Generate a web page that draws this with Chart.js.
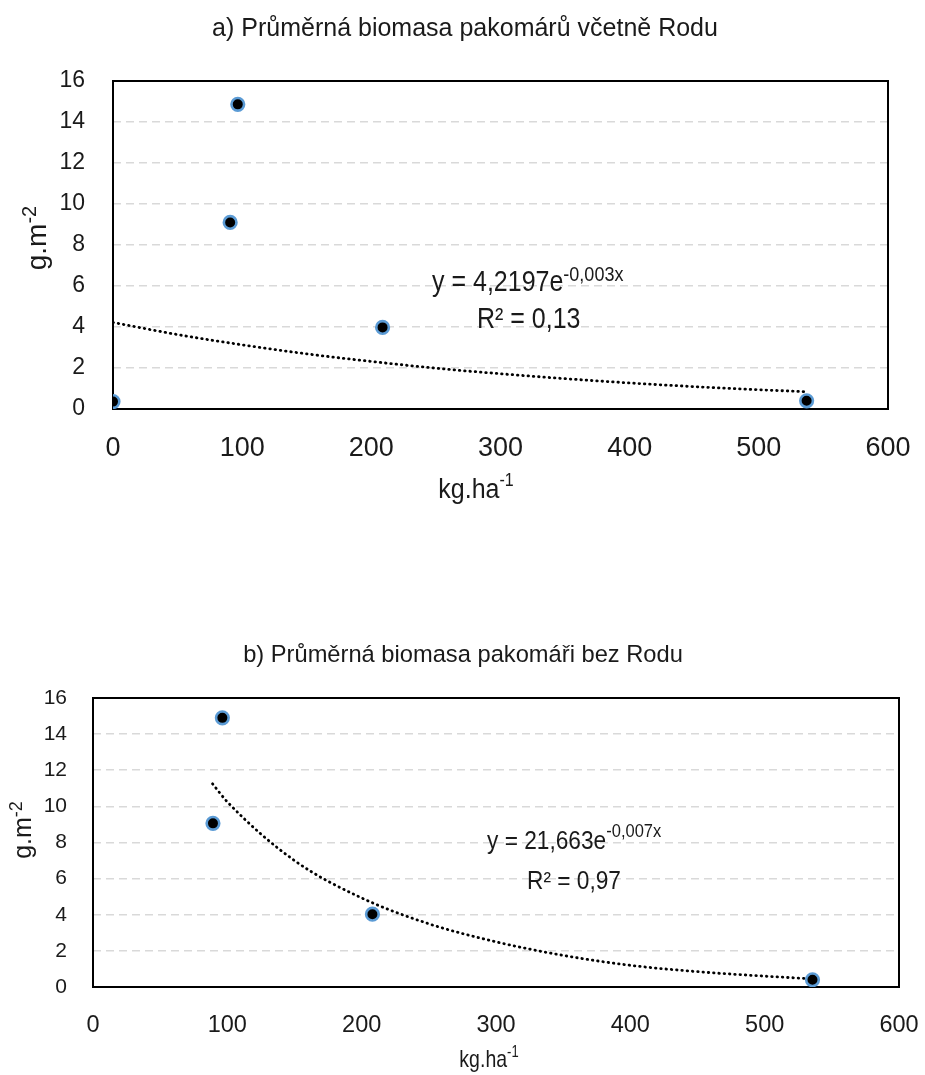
<!DOCTYPE html>
<html>
<head>
<meta charset="utf-8">
<script src="https://cdn.jsdelivr.net/npm/chart.js@4.4.1/dist/chart.umd.min.js"></script>
<style>
  body { margin: 0; background: #fff; }
  .wrap { position: absolute; left: 0; width: 925px; }
</style>
</head>
<body>
<div class="wrap" style="top:0;height:540px"><canvas id="chartA"></canvas></div>
<div class="wrap" style="top:600px;height:475px"><canvas id="chartB"></canvas></div>
<script>
var xTicks = [0, 100, 200, 300, 400, 500, 600];
var yTicks = [0, 2, 4, 6, 8, 10, 12, 14, 16];

// a) vcetne Rodu
var titleA = 'a) Průměrná biomasa pakomárů včetně Rodu';
var doseA = [0, 90.7, 96.6, 208.7, 537];
var biomassA = [0.36, 9.1, 14.86, 3.98, 0.4];
var trendDoseA = [0, 50, 100, 150, 200, 250, 300, 350, 400, 450, 500, 537];
var trendBiomassA = [4.22, 3.63, 3.13, 2.69, 2.32, 1.99, 1.72, 1.48, 1.27, 1.09, 0.94, 0.84];

// b) bez Rodu
var titleB = 'b) Průměrná biomasa pakomáři bez Rodu';
var doseB = [89.3, 96.3, 208, 535.6];
var biomassB = [9.06, 14.9, 4.03, 0.4];
var trendDoseB = [89, 100, 150, 200, 250, 300, 350, 400, 450, 500, 536];
var trendBiomassB = [11.25, 10.25, 7.0, 4.93, 3.5, 2.5, 1.75, 1.2, 0.85, 0.6, 0.45];

var FAMILY = "'Liberation Sans', Arial, sans-serif";

function pairs(xs, ys) {
  return xs.map(function (x, i) { return { x: x, y: ys[i] }; });
}

// base text + raised superscript, left aligned or centred
function supText(ctx, base, sup, x, y, size, supSize, rise, align) {
  ctx.font = size + 'px ' + FAMILY;
  var wb = ctx.measureText(base).width;
  ctx.font = supSize + 'px ' + FAMILY;
  var ws = sup ? ctx.measureText(sup).width : 0;
  var start = align === 'center' ? x - (wb + ws) / 2 : x;
  ctx.textAlign = 'left';
  ctx.textBaseline = 'middle';
  ctx.font = size + 'px ' + FAMILY;
  ctx.fillText(base, start, y);
  if (sup) {
    ctx.font = supSize + 'px ' + FAMILY;
    ctx.fillText(sup, start + wb, y - rise);
  }
}

var textPlugin = {
  id: 'texts',
  afterDraw: function (chart, args, opts) {
    var ctx = chart.ctx;
    ctx.save();
    ctx.fillStyle = '#1a1a1a';
    opts.items.forEach(function (t) {
      ctx.save();
      ctx.translate(t.x, t.y);
      if (t.rotate) ctx.rotate(-Math.PI / 2);
      ctx.scale(1, t.sy || 1); // the source text is a bit taller than wide
      supText(ctx, t.base, t.sup || '', 0, 0, t.size, t.supSize || t.size, t.rise || 0, t.rotate ? 'center' : t.align);
      ctx.restore();
    });
    ctx.restore();
  }
};

var boxPlugin = {
  id: 'box',
  beforeDatasetsDraw: function (chart) {
    var a = chart.chartArea, ctx = chart.ctx;
    ctx.save();
    ctx.strokeStyle = '#000';
    ctx.lineWidth = 2;
    ctx.strokeRect(a.left, a.top, a.right - a.left, a.bottom - a.top);
    ctx.restore();
  }
};

function buildChart(id, c) {
  var ctx = document.getElementById(id).getContext('2d');
  return new Chart(ctx, {
    type: 'scatter',
    data: {
      datasets: [{
        data: pairs(c.xs, c.ys),
        backgroundColor: '#000',
        borderColor: '#5b9bd5',
        borderWidth: 2.6,
        pointRadius: 6.3
      }, {
        data: pairs(c.txs, c.tys),
        showLine: true,
        pointRadius: 0,
        borderColor: '#000',
        borderWidth: 2.8,
        borderDash: [0.5, 4.8],
        borderCapStyle: 'round',
        cubicInterpolationMode: 'monotone'
      }]
    },
    plugins: [boxPlugin, textPlugin],
    options: {
      responsive: true,
      maintainAspectRatio: false,
      animation: false,
      layout: { padding: { left: 0, right: c.padRight, top: c.padTop, bottom: 0 } },
      plugins: {
        legend: { display: false },
        tooltip: { enabled: false },
        texts: { items: c.texts }
      },
      scales: {
        x: {
          type: 'linear',
          min: xTicks[0],
          max: xTicks[xTicks.length - 1],
          afterBuildTicks: function (s) { s.ticks = xTicks.map(function (v) { return { value: v }; }); },
          afterFit: function (s) { s.height = c.xHeight; s.paddingLeft = 0; s.paddingRight = 0; },
          ticks: { color: '#1a1a1a', padding: c.xPad, font: { family: FAMILY, size: c.xTickSize } },
          grid: { display: false, drawTicks: false },
          border: { display: false }
        },
        y: {
          min: yTicks[0],
          max: yTicks[yTicks.length - 1],
          afterBuildTicks: function (s) { s.ticks = yTicks.map(function (v) { return { value: v }; }); },
          afterFit: function (s) { s.width = c.yWidth; s.paddingTop = 0; s.paddingBottom = 0; },
          ticks: { color: '#1a1a1a', padding: c.yPad, font: { family: FAMILY, size: c.yTickSize } },
          grid: { color: '#d9d9d9', lineWidth: 1.6, drawTicks: false },
          border: { display: false, dash: [8, 5] }
        }
      }
    }
  });
}

buildChart('chartA', {
  xs: doseA, ys: biomassA, txs: trendDoseA, tys: trendBiomassA,
  padTop: 81, padRight: 37, xHeight: 131, yWidth: 113, xPad: 23, yPad: 28,
  xTickSize: 27, yTickSize: 23,
  texts: [
    { base: titleA, x: 465, y: 29, size: 25, align: 'center' },
    { base: 'y = 4,2197e', sup: '-0,003x', x: 432, y: 283, size: 25, supSize: 18, rise: 7, sy: 1.15 },
    { base: 'R² = 0,13', x: 477, y: 320, size: 25, sy: 1.15 },
    { base: 'kg.ha', sup: '-1', x: 476, y: 490, size: 25, supSize: 16, rise: 8, align: 'center', sy: 1.1 },
    { base: 'g.m', sup: '-2', x: 38, y: 238, size: 28, supSize: 20, rise: 8, rotate: true }
  ]
});

buildChart('chartB', {
  xs: doseB, ys: biomassB, txs: trendDoseB, tys: trendBiomassB,
  padTop: 98, padRight: 26, xHeight: 88, yWidth: 93, xPad: 24, yPad: 26,
  xTickSize: 23.5, yTickSize: 21,
  texts: [
    { base: titleB, x: 463, y: 55, size: 23.7, align: 'center' },
    { base: 'y = 21,663e', sup: '-0,007x', x: 487, y: 242, size: 22.7, supSize: 16.5, rise: 9, sy: 1.1 },
    { base: 'R² = 0,97', x: 527, y: 282, size: 22.7, sy: 1.1 },
    { base: 'kg.ha', sup: '-1', x: 489, y: 461, size: 19.5, supSize: 13, rise: 7, align: 'center', sy: 1.2 },
    { base: 'g.m', sup: '-2', x: 24, y: 230, size: 25, supSize: 18, rise: 7, rotate: true }
  ]
});
</script>
</body>
</html>
